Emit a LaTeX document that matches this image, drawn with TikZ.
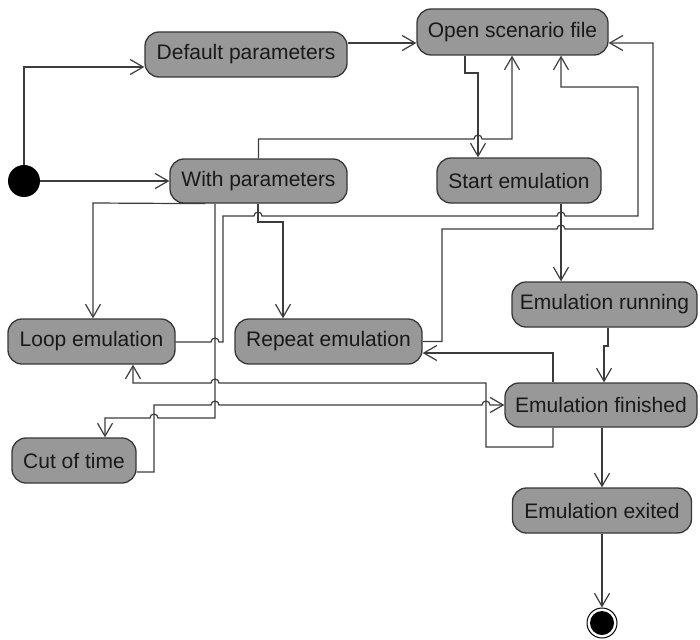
\documentclass[tikz,border=0pt]{standalone}
\usepackage{fontspec}
\setmainfont{Liberation Sans}
\usetikzlibrary{arrows.meta,calc}
\definecolor{statefill}{RGB}{152,152,152}
\definecolor{stateline}{RGB}{55,55,55}
\definecolor{wire}{RGB}{60,60,60}
\definecolor{ink}{RGB}{25,25,25}
\begin{document}
\begin{tikzpicture}[x=1pt,y=-1pt,
  state/.style={draw=stateline, line width=1.3pt, fill=statefill, rounded corners=14pt,
    inner sep=0pt, text=ink, font=\fontsize{21}{25}\selectfont},
  conn/.style={draw=wire, line width=1.2pt,
    -{Straight Barb[length=13pt,width=15pt,line width=1.2pt]}},
  plain/.style={draw=wire, line width=1.2pt},
  hop/.style={}]
\useasboundingbox (0,0) rectangle (700,639);

% states
\node[state, minimum width=202pt, minimum height=45pt] (dp)  at (246,54.5)   {Default parameters};
\node[state, minimum width=191pt, minimum height=46pt] (osf) at (512.5,32)   {Open scenario file};
\node[state, minimum width=177pt, minimum height=44pt] (wp)  at (258.5,181)  {With parameters};
\node[state, minimum width=164pt, minimum height=45pt] (se)  at (519,180.5)  {Start emulation};
\node[state, minimum width=167pt, minimum height=45pt] (le)  at (91.5,341.5) {Loop emulation};
\node[state, minimum width=187pt, minimum height=45pt] (re)  at (328.5,341.5) {Repeat emulation};
\node[state, minimum width=124pt, minimum height=45pt] (ct)  at (74,460.5)   {Cut of time};
\node[state, minimum width=185pt, minimum height=45pt] (er)  at (604.5,304.5) {Emulation running};
\node[state, minimum width=192pt, minimum height=44pt] (ef)  at (601,405)    {Emulation finished};
\node[state, minimum width=179pt, minimum height=45pt] (ex)  at (602,510.5)  {Emulation exited};

% initial and final pseudo-states
\node[circle, fill=black, minimum size=32pt, inner sep=0pt] (init) at (24,181) {};
\node[circle, draw=black, line width=1pt, fill=white, minimum size=30pt, inner sep=0pt] (final) at (602,623) {};
\fill[black] (final.center) circle[radius=12pt];

% transitions
\draw[conn] (init.north) |- (dp.west |- 0,67);
\draw[conn] (init.east) -- (wp.west);
\draw[conn] (dp.east |- 0,43) -- (osf.west |- 0,43);

\draw[conn] (osf.south -| 465,0) -- (465,73) -- (478,73) -- (se.north -| 478,0);

\draw[conn] (wp.north) -- (wp.north |- 0,139) -- (474,139)
  arc[start angle=180,end angle=0,radius=4pt] -- (512,139) -- (osf.south -| 512,0);

\draw[conn] (le.east |- 0,342) -- (211,342)
  arc[start angle=180,end angle=0,radius=4pt] -- (223,342) -- (223,216) -- (254,216)
  arc[start angle=180,end angle=0,radius=4pt] -- (557,216)
  arc[start angle=180,end angle=0,radius=4pt] -- (638,216) -- (638,87) -- (561,87)
  -- (osf.south -| 561,0);

\draw[conn] (re.east) -- (442,341.5) -- (442,229) -- (557,229)
  arc[start angle=180,end angle=0,radius=4pt] -- (653,229) -- (653,43)
  -- (osf.east |- 0,43);

\draw[conn] (wp.south -| 258,0) -- (258,222) -- (283,222) -- (re.north -| 283,0);

\draw[conn] (se.south -| 561,0) -- (er.north -| 561,0);

\draw[conn] (er.south -| 608,0) -- (608,346) -- (604,346) -- (ef.north -| 604,0);

\draw[conn] (ef.north -| 553,0) -- (553,353) -- (re.east |- 0,353);

\draw[conn] (ef.south -| 553,0) -- (553,447) -- (486,447) -- (486,383) -- (219,383)
  arc[start angle=0,end angle=180,radius=4pt] -- (133,383) -- (le.south -| 133,0);

\draw[conn] (ct.east |- 0,472) -- (154,472) -- (154,405) -- (211,405)
  arc[start angle=180,end angle=0,radius=4pt] -- (482,405)
  arc[start angle=180,end angle=0,radius=4pt] -- (ef.west);

\draw[conn] (wp.south -| 215,0) -- (215,418) -- (158,418)
  arc[start angle=0,end angle=180,radius=4pt] -- (105,418) -- (ct.north -| 105,0);

\draw[conn] (wp.south -| 205,0) -- (93,203) -- (le.north -| 93,0);

\draw[conn] (ef.south -| 602,0) -- (ex.north);
\draw[conn] (ex.south) -- (final.north);
\end{tikzpicture}
\end{document}
